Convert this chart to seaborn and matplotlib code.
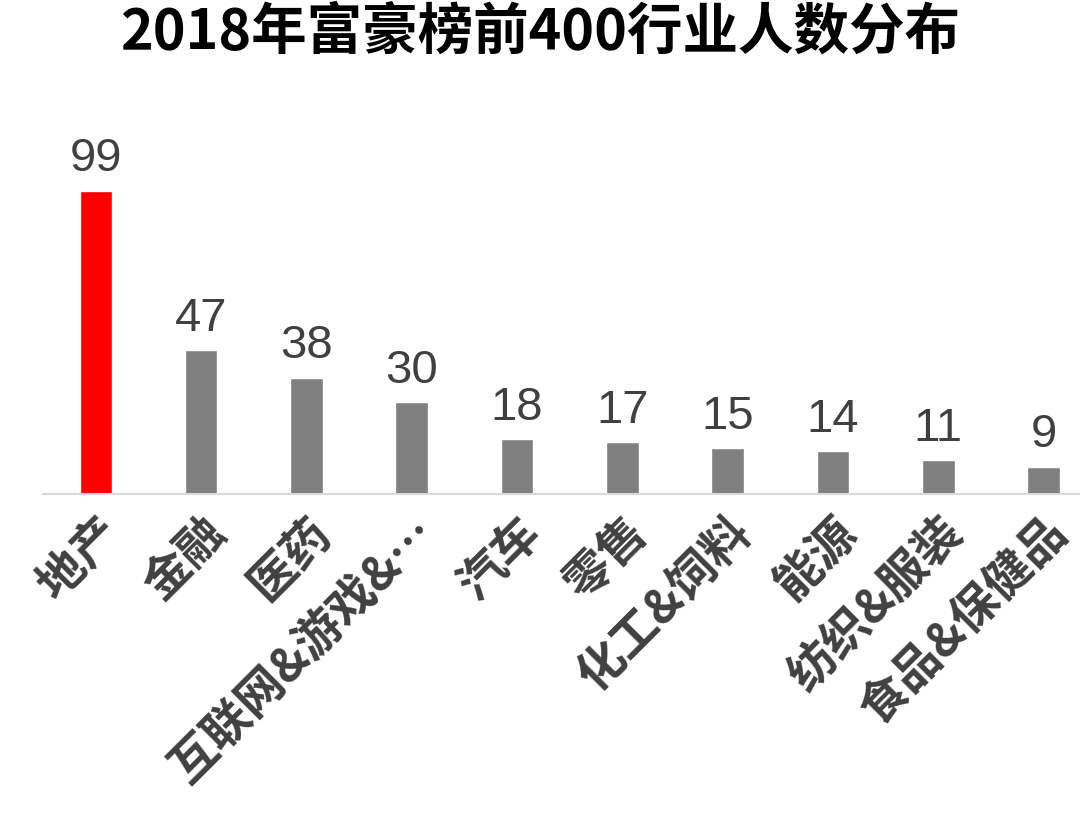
import matplotlib
matplotlib.use("Agg")
import matplotlib.pyplot as plt
import seaborn as sns
import pandas as pd

industries = ["地产", "金融", "医药", "互联网&游戏&…", "汽车", "零售", "化工&饲料", "能源", "纺织&服装", "食品&保健品"]
counts = [99, 47, 38, 30, 18, 17, 15, 14, 11, 9]
colors = ["#FF0000"] + ["#808080"] * 9

sns.set_theme(style="white")
plt.rcParams['font.family'] = ['Noto Sans CJK SC', 'DejaVu Sans']

df = pd.DataFrame({"industry": industries, "count": counts})
fig = plt.figure(figsize=(10.8, 8.32), dpi=100)
ax = fig.add_axes([0.04, 0.406, 0.975, 0.43])
sns.barplot(data=df, x="industry", y="count", hue="industry", palette=colors,
            legend=False, width=0.31, saturation=1, ax=ax)
ax.set_xlim(-0.5, 9.5)
ax.set_ylim(0, 99 * 357 / 303)
for i, v in enumerate(counts):
    ax.text(i, v + 3, str(v), ha="center", va="bottom", fontsize=34,
            color="#404040", family=["Liberation Sans", "DejaVu Sans"])
ax.set_xticks(range(len(industries)))
ax.set_xticklabels(industries, rotation=45, ha="right", rotation_mode="anchor",
                   fontsize=34, fontweight="bold", color="#404040")
ax.tick_params(axis="x", pad=10, length=0)
ax.set_yticks([])
ax.set_xlabel("")
ax.set_ylabel("")
for s in ["top", "right", "left"]:
    ax.spines[s].set_visible(False)
ax.spines["bottom"].set_color("#D9D9D9")
ax.spines["bottom"].set_linewidth(1.5)
fig.suptitle("2018年富豪榜前400行业人数分布", fontsize=40, fontweight="bold",
             color="black", y=0.995)
fig.savefig("out.png", dpi=100)
